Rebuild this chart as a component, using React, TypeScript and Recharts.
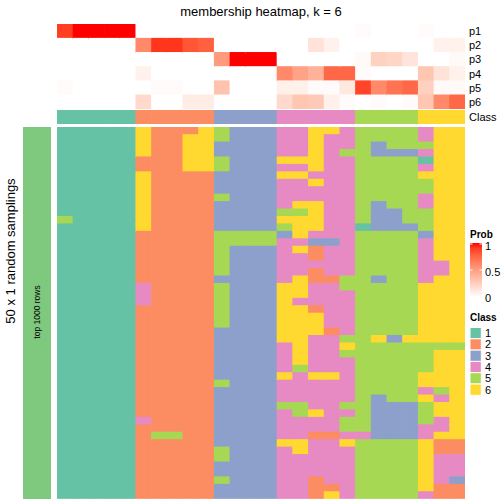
import { BarChart, Bar, XAxis, YAxis } from 'recharts'

// class of each of the 26 columns (the "Class" annotation row)
const columnClass = [1, 1, 1, 1, 1, 2, 2, 2, 2, 2, 3, 3, 3, 3, 4, 4, 4, 4, 4, 5, 5, 5, 5, 6, 6, 6]

const probNames = ['p1', 'p2', 'p3', 'p4', 'p5', 'p6']
const p1 = [0.9, 1, 1, 1, 1, 0, 0, 0, 0, 0, 0, 0, 0, 0, 0, 0, 0, 0, 0, 0.02, 0, 0, 0, 0.02, 0, 0]
const p2 = [0, 0, 0, 0, 0, 0.6, 0.92, 0.92, 0.82, 0.78, 0, 0, 0, 0, 0, 0, 0.15, 0.07, 0, 0, 0, 0, 0, 0, 0.07, 0.07]
const p3 = [0, 0, 0, 0, 0, 0, 0, 0, 0, 0, 0.52, 1, 1, 1, 0, 0, 0, 0, 0, 0.03, 0.24, 0.22, 0.14, 0, 0, 0.03]
const p4 = [0, 0, 0, 0, 0, 0.07, 0, 0, 0, 0, 0, 0, 0, 0, 0.6, 0.48, 0.4, 0.75, 0.75, 0.02, 0, 0, 0, 0.3, 0.15, 0.07]
const p5 = [0.02, 0, 0, 0, 0, 0, 0.02, 0.02, 0, 0, 0.32, 0, 0, 0, 0.08, 0.08, 0.02, 0.02, 0.12, 0.88, 0.6, 0.7, 0.75, 0.25, 0.03, 0.03]
const p6 = [0, 0, 0, 0, 0, 0.2, 0, 0, 0.1, 0.1, 0, 0, 0, 0, 0.2, 0.3, 0.28, 0.08, 0.02, 0, 0.02, 0, 0.02, 0.3, 0.6, 0.75]

// 50 random samplings, one digit (class) per column
const samplings = [
  '11111622265333446645555466',
  '11111622665333446445555466',
  '11111622663333446445355566',
  '11111622663333446455333466',
  '11111222665333666445555166',
  '11111222665333446445555466',
  '11111622223333664445555666',
  '11111622223333446445555566',
  '11111622223333444445555566',
  '11111622225333444445555466',
  '11111622223333466445355466',
  '11111622223333556445335566',
  '51111622223333666445335566',
  '11111622223333566441333566',
  '11111222225555364445555366',
  '11111222225555443345555466',
  '11111222225333462445555466',
  '11111222225333442445555466',
  '11111222225333444445555446',
  '11111222225333442445555446',
  '11111222223333462255355466',
  '11111422225333664455555666',
  '11111422225333664445555666',
  '11111422225333644445555666',
  '11111222225333662445555666',
  '11111222225333666445555666',
  '11111222225333666445555666',
  '11111222223333666245555666',
  '11111222223333664455636666',
  '11111222223333464465555555',
  '11111222223333464455555566',
  '11111222223333464445555566',
  '11111222223333454445555566',
  '11111222223333646645555666',
  '11111222225333444445555666',
  '11111222223333444445555456',
  '11111222223333444445355646',
  '11111222223333554455333566',
  '11111222223333456445333566',
  '11111422223333444455333546',
  '11111222223333444455333446',
  '11111255223333442244333466',
  '11111222223333664465555622',
  '11111222225333464445555622',
  '11111222225333444445555644',
  '11111222223333444445555644',
  '11111222223333444445555644',
  '11111222225333442445555643',
  '11111222223333442245555622',
  '11111222223333442645555422',
]

const classLabels = ['1', '2', '3', '4', '5', '6']
const probTicks = ['1', '0.5', '0']

const classColors: Record<string, string> = {
  '1': '#66C2A5',
  '2': '#FC8D62',
  '3': '#8DA0CB',
  '4': '#E78AC3',
  '5': '#A6D854',
  '6': '#FFD92F',
}

const FONT = '"Liberation Sans", Arial, sans-serif'

// white -> red, interpolated in LAB like colorRamp2
function lin(c: number) {
  c /= 255
  return c <= 0.04045 ? c / 12.92 : Math.pow((c + 0.055) / 1.055, 2.4)
}
function gam(c: number) {
  const v = c <= 0.0031308 ? 12.92 * c : 1.055 * Math.pow(c, 1 / 2.4) - 0.055
  return Math.round(Math.max(0, Math.min(1, v)) * 255)
}
const Xn = 0.95047, Yn = 1, Zn = 1.08883
function toLab(r: number, g: number, b: number) {
  const R = lin(r), G = lin(g), B = lin(b)
  const x = (0.4124 * R + 0.3576 * G + 0.1805 * B) / Xn
  const y = (0.2126 * R + 0.7152 * G + 0.0722 * B) / Yn
  const z = (0.0193 * R + 0.1192 * G + 0.9505 * B) / Zn
  const f = (t: number) => (t > 0.008856 ? Math.cbrt(t) : 7.787 * t + 16 / 116)
  return [116 * f(y) - 16, 500 * (f(x) - f(y)), 200 * (f(y) - f(z))]
}
function fromLab(L: number, a: number, bb: number) {
  const fy = (L + 16) / 116
  const fx = fy + a / 500
  const fz = fy - bb / 200
  const inv = (t: number) => (t ** 3 > 0.008856 ? t ** 3 : (t - 16 / 116) / 7.787)
  const x = inv(fx) * Xn, y = inv(fy) * Yn, z = inv(fz) * Zn
  const R = 3.2406 * x - 1.5372 * y - 0.4986 * z
  const G = -0.9689 * x + 1.8758 * y + 0.0415 * z
  const B = 0.0557 * x - 0.204 * y + 1.057 * z
  return `rgb(${gam(R)},${gam(G)},${gam(B)})`
}
const LOW = toLab(255, 255, 255)
const HIGH = toLab(255, 0, 0)
function probColor(v: number) {
  const t = Math.max(0, Math.min(1, v))
  return fromLab(
    LOW[0] + (HIGH[0] - LOW[0]) * t,
    LOW[1] + (HIGH[1] - LOW[1]) * t,
    LOW[2] + (HIGH[2] - LOW[2]) * t
  )
}

const probs = [p1, p2, p3, p4, p5, p6]

function rowObj(name: string | number) {
  const o: Record<string, any> = { name }
  columnClass.forEach((_, j) => (o['c' + j] = 1))
  return o
}

const mainData = samplings.map((_, i) => rowObj(i))
const probData = probNames.map((n) => rowObj(n))
const classData = [rowObj('Class')]

function Grid({ data, width, height, color }: {
  data: any[]
  width: number
  height: number
  color: (row: number, col: number) => string
}) {
  return (
    <BarChart
      width={width}
      height={height}
      data={data}
      layout="vertical"
      margin={{ top: 0, right: 0, bottom: 0, left: 0 }}
      barCategoryGap={0}
      barGap={0}
    >
      <XAxis type="number" domain={[0, columnClass.length]} hide />
      <YAxis type="category" dataKey="name" hide />
      {columnClass.map((_, j) => (
        <Bar
          key={j}
          dataKey={'c' + j}
          stackId="s"
          isAnimationActive={false}
          shape={(p: any) => {
            // bar heights get truncated to whole pixels; stretch each cell a bit
            // so that neighbouring cells meet without a white seam
            const last = j === columnClass.length - 1
            const bottom = p.index === data.length - 1
            return (
              <rect
                x={p.x}
                y={p.y - 0.3}
                width={p.width + (last ? 0 : 0.7)}
                height={p.height + (bottom ? 0.6 : 1.4)}
                fill={color(p.index, j)}
              />
            )
          }}
        />
      ))}
    </BarChart>
  )
}

export default function App() {
  const left = 57
  const hmWidth = 408
  const gradTop = 243
  const gradBottom = 297
  const boxTop = 327.5
  const boxH = 11.3

  return (
    <div style={{ position: 'absolute', left: 0, top: 0, width: 504, height: 504, background: '#fff', fontFamily: FONT }}>
      <div style={{ position: 'absolute', left, top: 24 }}>
        <Grid data={probData} width={hmWidth} height={85} color={(i, j) => probColor(probs[i][j])} />
      </div>
      <div style={{ position: 'absolute', left, top: 110 }}>
        <Grid data={classData} width={hmWidth} height={14} color={(_, j) => classColors[String(columnClass[j])]} />
      </div>
      <div style={{ position: 'absolute', left, top: 127 }}>
        <Grid data={mainData} width={hmWidth} height={372} color={(i, j) => classColors[samplings[i][j]]} />
      </div>

      {/* left annotation bar */}
      <div style={{ position: 'absolute', left: 23, top: 127 }}>
        <BarChart
          width={28}
          height={372}
          data={[{ name: 'top 1000 rows', v: 1 }]}
          layout="vertical"
          margin={{ top: 0, right: 0, bottom: 0, left: 0 }}
          barCategoryGap={0}
        >
          <XAxis type="number" domain={[0, 1]} hide />
          <YAxis type="category" dataKey="name" hide />
          <Bar dataKey="v" fill="#7FC97F" isAnimationActive={false} />
        </BarChart>
      </div>

      <svg width={504} height={504} style={{ position: 'absolute', left: 0, top: 0, pointerEvents: 'none' }}>
        <defs>
          <linearGradient id="probGrad" x1="0" y1="1" x2="0" y2="0">
            {[0, 0.1, 0.2, 0.3, 0.4, 0.5, 0.6, 0.7, 0.8, 0.9, 1].map((t) => (
              <stop key={t} offset={t} stopColor={probColor(t)} />
            ))}
          </linearGradient>
        </defs>

        <text x={261} y={11} fontSize={13} textAnchor="middle" dominantBaseline="central" fill="#000">
          membership heatmap, k = 6
        </text>

        {probNames.map((n, i) => (
          <text key={n} x={469} y={31 + i * 14.2} fontSize={11} dominantBaseline="central" fill="#000">
            {n}
          </text>
        ))}
        <text x={469} y={117} fontSize={11} dominantBaseline="central" fill="#000">Class</text>

        <text
          x={10}
          y={251}
          fontSize={13}
          textAnchor="middle"
          dominantBaseline="central"
          transform="rotate(-90 10 251)"
          fill="#000"
        >
          50 x 1 random samplings
        </text>
        <text
          x={37}
          y={312}
          fontSize={8.5}
          textAnchor="middle"
          dominantBaseline="central"
          transform="rotate(-90 37 312)"
          fill="#000"
        >
          top 1000 rows
        </text>

        {/* Prob legend */}
        <text x={470} y={234} fontSize={10} fontWeight="bold" dominantBaseline="central" fill="#000">Prob</text>
        <rect x={470} y={gradTop} width={12} height={gradBottom - gradTop} fill="url(#probGrad)" />
        {probTicks.map((t, i) => {
          const y = gradTop + 1 + i * (gradBottom - gradTop - 2) / 2
          return (
            <g key={t}>
              <line x1={470} x2={472.5} y1={y} y2={y} stroke="#fff" strokeWidth={1} />
              <line x1={479.5} x2={482} y1={y} y2={y} stroke="#fff" strokeWidth={1} />
              <text x={485} y={y + 1.5} fontSize={11} dominantBaseline="central" fill="#000">{t}</text>
            </g>
          )
        })}

        {/* Class legend */}
        <text x={470} y={317} fontSize={10} fontWeight="bold" dominantBaseline="central" fill="#000">Class</text>
        {classLabels.map((c, i) => (
          <g key={c}>
            <rect x={470} y={boxTop + i * boxH} width={11.3} height={boxH} fill={classColors[c]} stroke="#fff" strokeWidth={1} />
            <text x={485} y={boxTop + i * boxH + boxH / 2} fontSize={11} dominantBaseline="central" fill="#000">{c}</text>
          </g>
        ))}
      </svg>
    </div>
  )
}
